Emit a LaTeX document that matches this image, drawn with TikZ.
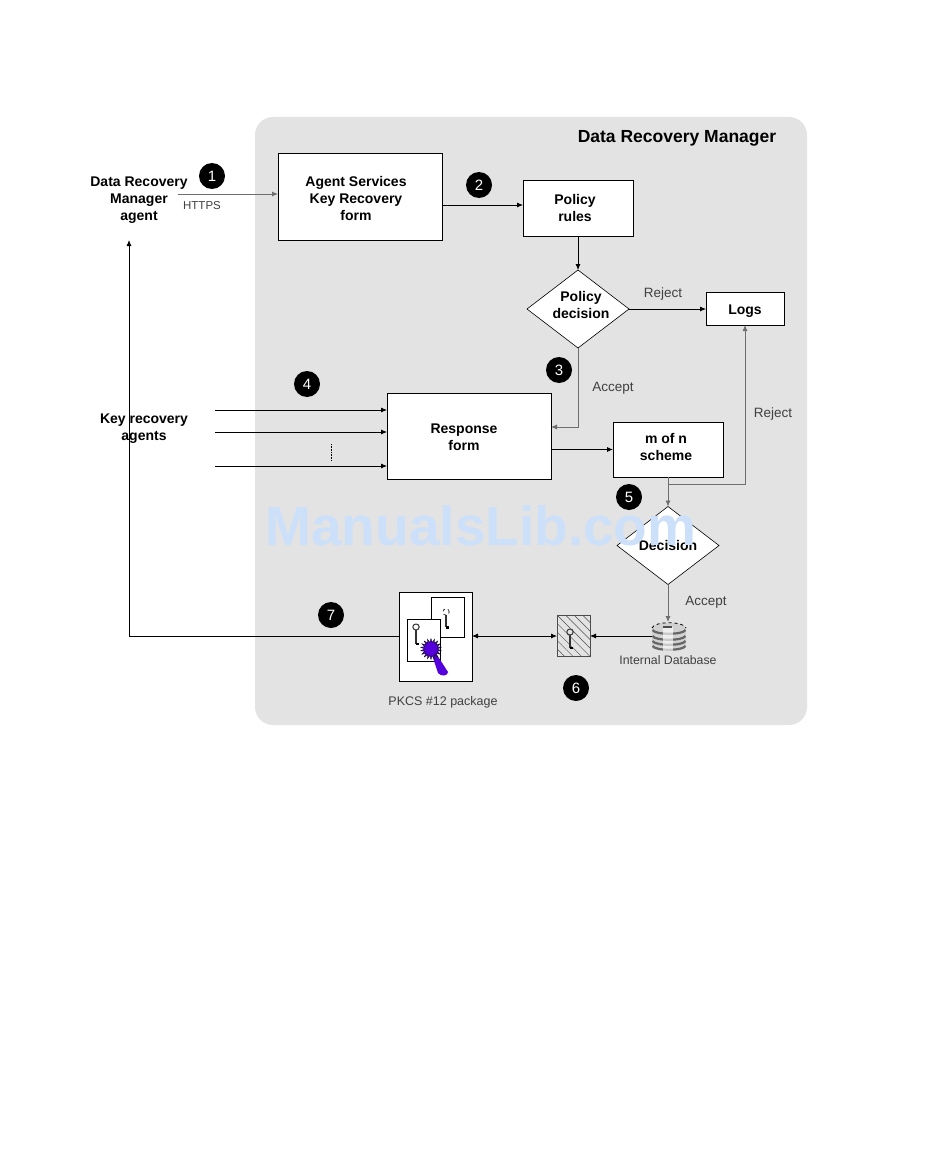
\documentclass[tikz,border=0pt]{standalone}
\usepackage{fontspec}
\setmainfont{Liberation Sans}
\usetikzlibrary{shapes, arrows.meta, calc, positioning, patterns.meta}
\usetikzlibrary{shapes.geometric}
\definecolor{panelgray}{RGB}{227,227,227}
\definecolor{linegray}{RGB}{110,110,110}
\definecolor{sealpurple}{RGB}{85,0,220}
\definecolor{markblue}{RGB}{204,224,250}
\tikzset{
    box/.style={draw, fill=white, line width=0.8pt, outer sep=0pt, inner sep=0pt, align=center, font=\bfseries\fontsize{14}{17}\selectfont},
    choice/.style={draw, diamond, fill=white, line width=0.6pt, aspect=1.3, outer sep=0pt, inner sep=0pt, minimum width=102pt, minimum height=78pt},
    bullet/.style={circle, fill=black, text=white, minimum size=26pt, inner sep=0pt, font=\fontsize{15}{15}\selectfont},
    plain/.style={align=center, inner sep=0pt, font=\bfseries\fontsize{14}{17}\selectfont},
    thin label/.style={inner sep=0pt, text=black!75, font=\fontsize{13.5}{15}\selectfont},
    link/.style={-{Latex[length=6pt, width=5pt]}, line width=0.8pt},
    graylink/.style={-{Latex[length=6pt, width=5pt]}, line width=0.8pt, color=linegray},
    paper/.style={draw, fill=white, line width=0.8pt, minimum width=33pt, inner sep=0pt, outer sep=0pt},
}
\newcommand{\keyicon}[2]{% ring centre, length of the shaft
    \draw[line width=1pt, black!80] (#1) circle[x radius=3.2pt, y radius=3pt];
    \draw[line width=1.6pt, black!80] ($(#1)+(0,3)$) -- ($(#1)+(0,#2)$);
    \fill[black] ($(#1)+(-0.5,#2-1.5)$) rectangle ($(#1)+(3,#2+1)$);
}
\begin{document}
\begin{tikzpicture}[x=1pt, y=-1pt]
    \useasboundingbox (0,0) rectangle (950,1161);

    \fill[panelgray, rounded corners=18pt] (255,117) rectangle (807,725);
    \node[inner sep=0pt, font=\bfseries\fontsize{17.5}{18}\selectfont] (title) at (677,138) {Data Recovery Manager};

    \node[plain] (agent) at (139,200) {Data Recovery\\Manager\\agent};
    \node[plain] (keyagents) at (144,429) {Key recovery\\agents};

    \node[box, minimum width=164pt, minimum height=87pt] (services) at (360,196.5) {};
    \node[plain] (servicestext) at (356,198) {Agent Services\\Key Recovery\\form};
    \node[box, minimum width=110pt, minimum height=56pt] (rules) at (578,208) {};
    \node[plain] (rulestext) at (575,208) {Policy\\rules};
    \node[choice] (policy) at (578,309) {};
    \node[plain] (policytext) at (581,305) {Policy\\decision};
    \node[box, minimum width=78pt, minimum height=33pt] (logs) at (745,308.5) {};
    \node[plain] (logstext) at (745,311) {Logs};
    \node[box, minimum width=164pt, minimum height=86pt] (response) at (469,436) {};
    \node[plain] (responsetext) at (464,437) {Response\\form};
    \node[box, minimum width=110pt, minimum height=55pt] (scheme) at (668,449.5) {};
    \node[plain] (schemetext) at (666,447) {m of n\\scheme};
    \node[choice] (decision) at (668,545.5) {};
    \node[plain] (decisiontext) at (668,545) {Decision};

    % package with the two papers and the seal
    \node[box, minimum width=73pt, minimum height=89pt] (package) at (435.5,636.5) {};
    \node[paper, minimum height=40pt] (backpaper) at (447.5,617) {};
    \node[paper, minimum height=42pt] (frontpaper) at (423.5,640) {};
    \draw[dashed, line width=0.8pt, black!80] (446,612) circle (3.2pt);
    \draw[line width=1.4pt, black!80] (446,615) -- (446,627);
    \fill[black] (445.5,625.5) rectangle (449,628.5);
    \keyicon{416,627}{17}
    \fill[sealpurple] (432,655) -- (437,655) -- (448,672) .. controls (448,676) and (441,677) .. (438,673) -- cycle;
    \node[star, star points=18, star point ratio=1.6, fill=sealpurple, draw=black, line width=0.3pt, minimum size=21pt, inner sep=0pt] (seal) at (431,649) {};

    % wrapped key
    \node[box, fill=none, pattern={Lines[angle=-45, distance=6pt, line width=0.5pt]}, pattern color=black!70, draw=black!70, minimum width=33pt, minimum height=41pt] (wrapped) at (573.5,636) {};
    \keyicon{570,632}{16}

    % internal database
    \coordinate (dbleft) at (652,636);
    \coordinate (dbtop) at (668,622);
    \fill[black!18] (652,628) .. controls (654,621) and (684,621) .. (686,628) -- (686,646) .. controls (684,652) and (654,652) .. (652,646) -- cycle;
    \foreach \y in {630,636,641,646} {
        \draw[line width=2.2pt, black!60] (652.5,\y) .. controls (655,\y+5) and (683,\y+5) .. (685.5,\y);
    }
    \fill[white, opacity=0.65] (663,627) rectangle (673,651);
    \draw[dashed, line width=0.8pt, black] (652,628) .. controls (654,621) and (684,621) .. (686,628);
    \fill[black!70] (663,625.5) rectangle (672,627.5);
    \node[thin label, font=\fontsize{12.3}{13}\selectfont] (dblabel) at (668,660) {Internal Database};
    \node[thin label, font=\fontsize{12.5}{15}\selectfont] (packagelabel) at (443,702) {PKCS \#12 package};

    \node[bullet] (one) at (212,176) {1};
    \node[bullet] (two) at (479,185) {2};
    \node[bullet] (three) at (559,370) {3};
    \node[bullet] (four) at (307,384) {4};
    \node[bullet] (five) at (629,497) {5};
    \node[bullet] (six) at (576,688) {6};
    \node[bullet] (seven) at (331,615) {7};

    \node[thin label, font=\fontsize{11.5}{15}\selectfont] (https) at (202,206) {HTTPS};
    \node[thin label] (reject1) at (663,294) {Reject};
    \node[thin label] (accept1) at (613,388) {Accept};
    \node[thin label] (reject2) at (773,414) {Reject};
    \node[thin label] (accept2) at (706,602) {Accept};

    \coordinate (agentout) at (178,194);
    \coordinate (agentin) at (129,240);
    \coordinate (ka1) at (215,410);
    \coordinate (ka2) at (215,432);
    \coordinate (ka3) at (215,466);
    \coordinate (dota) at (331,444);
    \coordinate (dotb) at (331,461);
    \coordinate (rejectstart) at (668,484);

    \draw[graylink] (agentout) -- (agentout -| services.west);
    \draw[link] (services.east |- 0,205) -- ([yshift=3pt]rules.west);
    \draw[link] (rules.south) -- (policy.north);
    \draw[link] (policy.east) -- (policy.east -| logs.west);
    \draw[graylink] (policy.south) |- (response.east |- 0,427);
    \draw[link] (ka1) -- (ka1 -| response.west);
    \draw[link] (ka2) -- (ka2 -| response.west);
    \draw[link] (ka3) -- (ka3 -| response.west);
    \draw[densely dotted, line width=0.6pt] (dota) -- (dotb);
    \draw[link] (response.east |- scheme.west) -- (scheme.west);
    \draw[graylink] (scheme.south) -- (decision.north);
    \draw[graylink] (rejectstart) -| (logs.south);
    \draw[graylink] (decision.south) -- (dbtop);
    \draw[link] (dbleft) -- (dbleft -| wrapped.east);
    \draw[{Latex[length=6pt, width=5pt]}-{Latex[length=6pt, width=5pt]}, line width=0.8pt] (package.east |- wrapped.west) -- (wrapped.west);
    \draw[link] (package.west |- wrapped.west) -| (agentin);

    \node[inner sep=0pt, text=markblue, font=\bfseries\fontsize{55}{55}\selectfont] (watermark) at (481,526) {ManualsLib.com};
\end{tikzpicture}
\end{document}
